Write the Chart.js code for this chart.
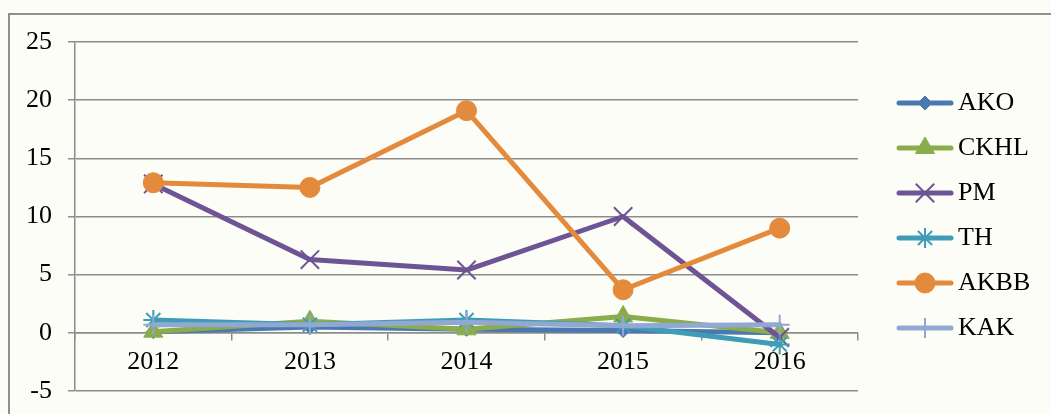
<!DOCTYPE html>
<html>
<head>
<meta charset="utf-8">
<script src="https://cdn.jsdelivr.net/npm/chart.js@4/dist/chart.umd.min.js"></script>
<style>
  html, body { margin: 0; padding: 0; background: #fdfdf7; }
  #wrap { width: 1051px; height: 414px; }
</style>
</head>
<body>
<div id="wrap"><canvas id="chart" width="1051" height="414"></canvas></div>
<script>
const years = ['2012', '2013', '2014', '2015', '2016']
const yTicks = [-5, 0, 5, 10, 15, 20, 25]

const ako = [0.1, 0.5, 0.3, 0.2, 0.0]
const ckhl = [0.1, 1.0, 0.3, 1.4, 0.0]
const pm = [12.8, 6.3, 5.4, 10.0, -0.4]
const th = [1.1, 0.7, 1.1, 0.6, -1.0]
const akbb = [12.9, 12.5, 19.1, 3.7, 9.0]
const kak = [0.7, 0.7, 0.9, 0.6, 0.7]

const FONT = "'Liberation Serif', 'Times New Roman', serif"
const GRID = '#8c8c8c'

function series(label, data, color, style, radius, order) {
  const filled = style === 'circle' || style === 'triangle' || style === 'rectRot'
  return {
    label: label,
    data: data,
    order: order,
    borderColor: color,
    backgroundColor: color,
    borderWidth: 5,
    borderJoinStyle: 'round',
    borderCapStyle: 'round',
    tension: 0,
    pointStyle: style,
    pointRadius: radius,
    pointHoverRadius: radius,
    pointBackgroundColor: color,
    pointBorderColor: color,
    pointBorderWidth: filled ? 1 : 2
  }
}

const datasets = [
  series('AKO', ako, '#4a78b0', 'rectRot', 7, 6),
  series('CKHL', ckhl, '#8aac4b', 'triangle', 11, 5),
  series('PM', pm, '#6e5495', 'crossRot', 13, 4),
  series('TH', th, '#3f9cb6', 'star', 10, 3),
  series('AKBB', akbb, '#e38a3c', 'circle', 10, 2),
  series('KAK', kak, '#91a8d2', 'cross', 10, 1)
]

// frame + background
const framePlugin = {
  id: 'frame',
  beforeDraw(chart) {
    const ctx = chart.ctx
    ctx.save()
    ctx.fillStyle = '#fdfdf7'
    ctx.fillRect(0, 0, chart.width, chart.height)
    ctx.strokeStyle = '#8f8f8f'
    ctx.lineWidth = 2
    ctx.strokeRect(9, 14, chart.width + 20, chart.height + 20)
    ctx.restore()
  }
}

// legend drawn as line + marker like the original
const lineLegend = {
  id: 'lineLegend',
  afterDraw(chart) {
    const ctx = chart.ctx
    const area = chart.chartArea
    const x0 = area.right + 39
    const midY = (area.top + area.bottom) / 2 - 1
    const step = 45
    const n = chart.data.datasets.length
    ctx.save()
    chart.data.datasets.forEach((ds, i) => {
      const cy = midY + (i - (n - 1) / 2) * step
      ctx.strokeStyle = ds.borderColor
      ctx.lineWidth = 5
      ctx.lineCap = 'round'
      ctx.beginPath()
      ctx.moveTo(x0 + 2, cy)
      ctx.lineTo(x0 + 54, cy)
      ctx.stroke()
      ctx.fillStyle = ds.pointBackgroundColor
      ctx.strokeStyle = ds.pointBorderColor
      ctx.lineWidth = ds.pointBorderWidth
      ctx.lineCap = 'butt'
      Chart.helpers.drawPoint(ctx, {
        pointStyle: ds.pointStyle,
        radius: ds.pointRadius,
        rotation: 0,
        borderWidth: ds.pointBorderWidth
      }, x0 + 28, cy)
      ctx.fillStyle = '#000'
      ctx.font = '26px ' + FONT
      ctx.textAlign = 'left'
      ctx.textBaseline = 'middle'
      ctx.fillText(ds.label, x0 + 61, cy)
    })
    ctx.restore()
  }
}

const ctx = document.getElementById('chart').getContext('2d')
const chart = new Chart(ctx, {
  type: 'line',
  data: {
    labels: years,
    datasets: datasets
  },
  options: {
    responsive: false,
    animation: false,
    layout: {
      padding: { left: 0, right: 193, top: 42, bottom: 23 }
    },
    plugins: {
      legend: { display: false },
      tooltip: { enabled: false }
    },
    scales: {
      x: {
        position: { y: 0 },
        offset: true,
        afterFit: (scale) => { scale.height = 0 },
        grid: {
          offset: true,
          drawOnChartArea: false,
          drawTicks: true,
          tickLength: 7,
          color: GRID,
          lineWidth: 1.5
        },
        border: { color: GRID, width: 1.5 },
        ticks: {
          color: '#000',
          padding: 7,
          maxRotation: 0,
          font: { family: FONT, size: 26 }
        }
      },
      y: {
        min: -5,
        max: 25,
        afterFit: (scale) => {
          scale.width = 75
          // labels may hang over the frame edges, don't reserve room for them
          scale.paddingTop = 0
          scale.paddingBottom = 0
        },
        afterBuildTicks: (scale) => {
          scale.ticks = yTicks.map(v => ({ value: v }))
        },
        grid: {
          color: GRID,
          lineWidth: 1.5,
          tickLength: 7
        },
        border: { color: GRID, width: 1.5 },
        ticks: {
          color: '#000',
          padding: 16,
          font: { family: FONT, size: 26 }
        }
      }
    }
  },
  plugins: [framePlugin, lineLegend]
})
</script>
</body>
</html>
